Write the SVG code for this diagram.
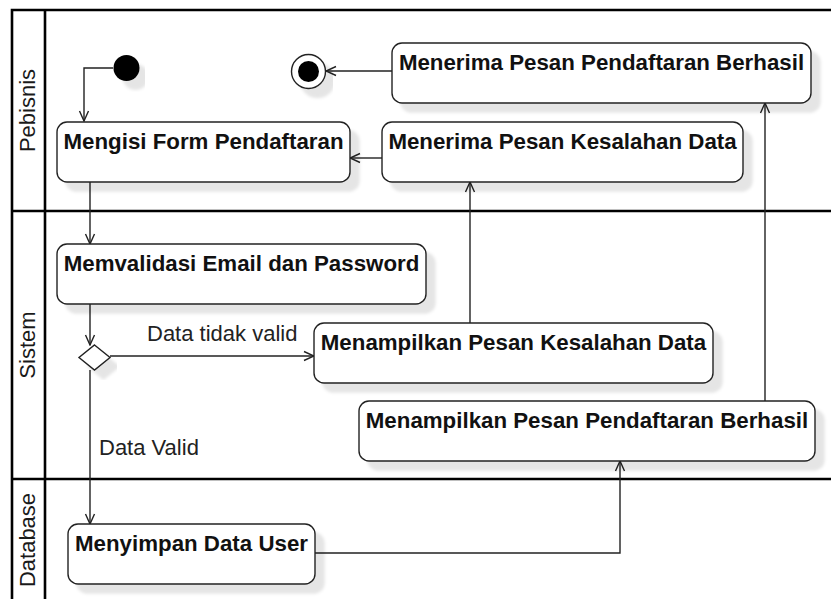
<svg xmlns="http://www.w3.org/2000/svg" width="831" height="599" viewBox="0 0 831 599">
<style>
.pool{fill:none;stroke:#000;stroke-width:2.6}
.lane{font-family:"Liberation Sans",Arial,sans-serif;font-size:22px;fill:#1a1a1a;text-anchor:middle}
.box{fill:#fff;stroke:#222;stroke-width:1.4}
.t{font-family:"Liberation Sans",Arial,sans-serif;font-size:22.3px;font-weight:bold;fill:#111;text-anchor:middle}
.lbl{font-family:"Liberation Sans",Arial,sans-serif;font-size:22px;fill:#222}
.c{fill:none;stroke:#222;stroke-width:1.4;marker-end:url(#arr)}
</style>
<defs>
<filter id="sh" x="-10%" y="-20%" width="130%" height="160%">
<feGaussianBlur in="SourceAlpha" stdDeviation="1.5"/>
<feOffset dx="9" dy="9" result="o"/>
<feFlood flood-color="#000" flood-opacity="0.1"/>
<feComposite in2="o" operator="in"/>
<feMerge><feMergeNode/><feMergeNode in="SourceGraphic"/></feMerge>
</filter>
<marker id="arr" viewBox="0 0 12 12" refX="11" refY="6" markerWidth="12" markerHeight="12" markerUnits="userSpaceOnUse" orient="auto">
<path d="M1,1.5 L11,6 L1,10.5" fill="none" stroke="#222" stroke-width="1.4"/>
</marker>
</defs>
<rect width="831" height="599" fill="#fff"/>
<g id="pool">
<path class="pool" d="M12,601 V10 H833 M45,10 V601 M12,211 H833 M12,479 H833"/>
<text class="lane" x="35" y="110.5" transform="rotate(-90 35 110.5)">Pebisnis</text>
<text class="lane" x="35" y="345" transform="rotate(-90 35 345)">Sistem</text>
<text class="lane" x="35" y="540" transform="rotate(-90 35 540)">Database</text>
</g>
<g id="connectors">
<path class="c" d="M113,68 H84 V121"/>
<path class="c" d="M90,182 V244"/>
<path class="c" d="M90,304 V345"/>
<path class="c" d="M110,356 H314"/>
<path class="c" d="M90,370 V524"/>
<path class="c" d="M470,323 V182"/>
<path class="c" d="M382,158 H350"/>
<path class="c" d="M392,71 H326"/>
<path class="c" d="M765,401 V103"/>
<path class="c" d="M315,553 H620 V461"/>
<text class="lbl" x="147" y="341">Data tidak valid</text>
<text class="lbl" x="99" y="455">Data Valid</text>
</g>
<g id="start"><circle cx="126.5" cy="68" r="13" fill="#000" filter="url(#sh)"/></g>
<g id="end">
<circle cx="308.5" cy="71.5" r="17" fill="#fff" stroke="#222" stroke-width="1.4" filter="url(#sh)"/>
<circle cx="308.5" cy="71.5" r="10.5" fill="#000"/>
</g>
<g id="mengisi"><rect class="box" x="57" y="122" width="293" height="60" rx="10" filter="url(#sh)"/><text class="t" x="203.5" y="148.5">Mengisi Form Pendaftaran</text></g>
<g id="terimaSalah"><rect class="box" x="382" y="122" width="361" height="60" rx="10" filter="url(#sh)"/><text class="t" x="562.5" y="148.5">Menerima Pesan Kesalahan Data</text></g>
<g id="terimaBerhasil"><rect class="box" x="392" y="43" width="419" height="60" rx="10" filter="url(#sh)"/><text class="t" x="601.5" y="69.5">Menerima Pesan Pendaftaran Berhasil</text></g>
<g id="validasi"><rect class="box" x="57" y="244" width="369" height="60" rx="10" filter="url(#sh)"/><text class="t" x="241.5" y="270.5">Memvalidasi Email dan Password</text></g>
<g id="decision"><polygon class="box" points="94.5,345 110,357.5 94.5,370 79,357.5" filter="url(#sh)"/></g>
<g id="tampilSalah"><rect class="box" x="314" y="323" width="399" height="60" rx="10" filter="url(#sh)"/><text class="t" x="513.5" y="349.5">Menampilkan Pesan Kesalahan Data</text></g>
<g id="tampilBerhasil"><rect class="box" x="359" y="401" width="456" height="60" rx="10" filter="url(#sh)"/><text class="t" x="587" y="427.5">Menampilkan Pesan Pendaftaran Berhasil</text></g>
<g id="simpan"><rect class="box" x="68" y="524" width="247" height="60" rx="10" filter="url(#sh)"/><text class="t" x="191.5" y="550.5">Menyimpan Data User</text></g>
</svg>
